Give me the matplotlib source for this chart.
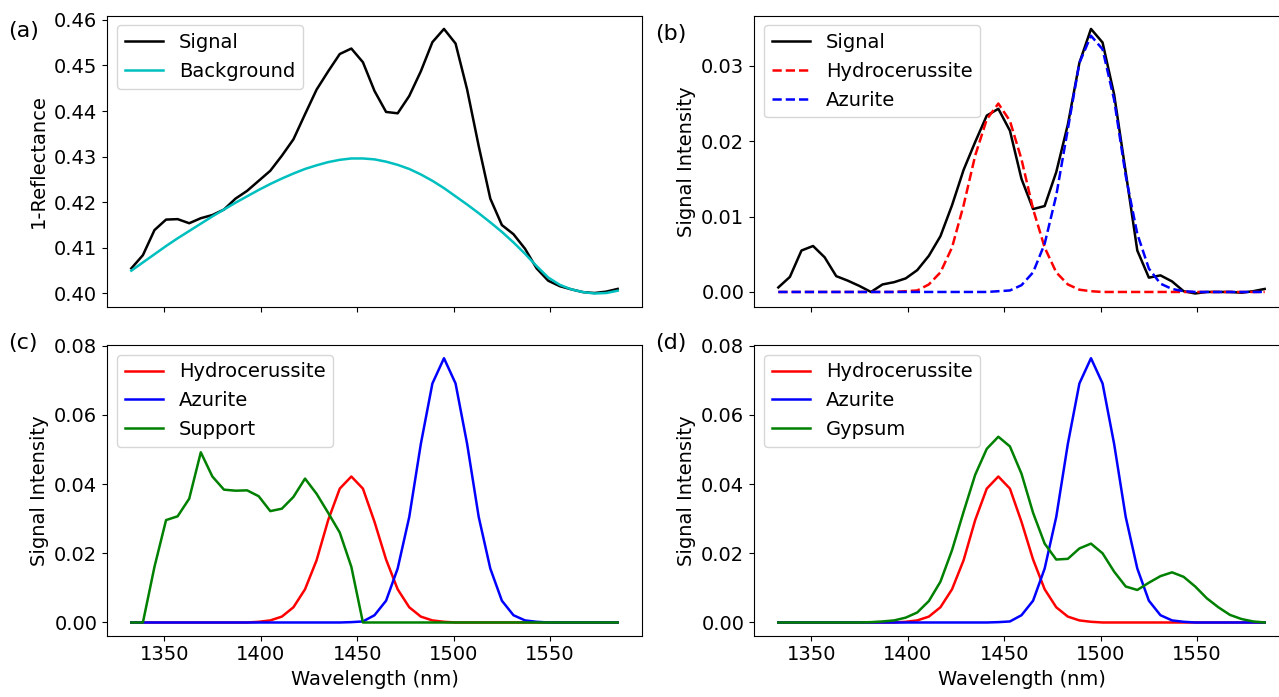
import numpy as np
import matplotlib
matplotlib.use("Agg")
import matplotlib.pyplot as plt
from matplotlib.ticker import FormatStrFormatter

# wavelength grid (nm), 6 nm steps
wavelength = [1333, 1339, 1345, 1351, 1357, 1363, 1369, 1375, 1381, 1387,
              1393, 1399, 1405, 1411, 1417, 1423, 1429, 1435, 1441, 1447,
              1453, 1459, 1465, 1471, 1477, 1483, 1489, 1495, 1501, 1507,
              1513, 1519, 1525, 1531, 1537, 1543, 1549, 1555, 1561, 1567,
              1573, 1579, 1585]

# (a) raw spectrum and fitted background
raw_signal = [0.4055, 0.4084, 0.4139, 0.4162, 0.4163, 0.4154, 0.4165, 0.4172, 0.4184, 0.4208,
              0.4225, 0.4247, 0.4269, 0.4302, 0.4338, 0.4393, 0.4447, 0.4487, 0.4525, 0.4537,
              0.4507, 0.4444, 0.4398, 0.4395, 0.4433, 0.4487, 0.4551, 0.4580, 0.4548, 0.4447,
              0.4323, 0.4208, 0.4150, 0.4130, 0.4098, 0.4055, 0.4028, 0.4016, 0.4009, 0.4003,
              0.4001, 0.4004, 0.4010]
background = [0.4050, 0.4068, 0.4086, 0.4104, 0.4121, 0.4137, 0.4153, 0.4169, 0.4184, 0.4199,
              0.4213, 0.4227, 0.4240, 0.4252, 0.4263, 0.4273, 0.4281, 0.4288, 0.4293, 0.4296,
              0.4296, 0.4294, 0.4289, 0.4282, 0.4273, 0.4261, 0.4247, 0.4231, 0.4213, 0.4195,
              0.4176, 0.4156, 0.4135, 0.4112, 0.4087, 0.4060, 0.4035, 0.4019, 0.4009, 0.4003,
              0.4000, 0.4001, 0.4006]

# (b) background-removed signal and fitted components
signal_b = [0.0006, 0.0020, 0.0055, 0.0061, 0.0046, 0.0021, 0.0015, 0.0008, 0.0000, 0.0010,
            0.0013, 0.0018, 0.0029, 0.0048, 0.0074, 0.0115, 0.0162, 0.0199, 0.0234, 0.0243,
            0.0214, 0.0150, 0.0110, 0.0114, 0.0159, 0.0222, 0.0304, 0.0349, 0.0331, 0.0262,
            0.0159, 0.0055, 0.0019, 0.0022, 0.0014, 0.0001, -0.0002, 0.0000, 0.0000, 0.0000,
            -0.0001, 0.0001, 0.0004]
hydro_fit = [0.0, 0.0, 0.0, 0.0, 0.0, 0.0, 0.0, 0.0, 0.0, 0.0,
             0.0, 0.0001, 0.0002, 0.0010, 0.0026, 0.0059, 0.0115, 0.0181, 0.0229, 0.0250,
             0.0227, 0.0176, 0.0110, 0.0059, 0.0026, 0.0010, 0.0003, 0.0001, 0.0, 0.0,
             0.0, 0.0, 0.0, 0.0, 0.0, 0.0, 0.0, 0.0, 0.0, 0.0,
             0.0, 0.0, 0.0]
azur_fit = [0.0, 0.0, 0.0, 0.0, 0.0, 0.0, 0.0, 0.0, 0.0, 0.0,
            0.0, 0.0, 0.0, 0.0, 0.0, 0.0, 0.0, 0.0, 0.0, 0.0001,
            0.0002, 0.0009, 0.0026, 0.0064, 0.0128, 0.0216, 0.0304, 0.0340, 0.0322, 0.0255,
            0.0154, 0.0077, 0.0031, 0.0011, 0.0004, 0.0001, 0.0, 0.0, 0.0, 0.0,
            0.0, 0.0, 0.0]

# (c), (d) reference spectra
hydrocerussite = [0.0, 0.0, 0.0, 0.0, 0.0, 0.0, 0.0, 0.0, 0.0, 0.0,
                  0.0, 0.0002, 0.0006, 0.0017, 0.0044, 0.0096, 0.0180, 0.0296, 0.0387, 0.0422,
                  0.0387, 0.0291, 0.0182, 0.0096, 0.0044, 0.0017, 0.0006, 0.0002, 0.0, 0.0,
                  0.0, 0.0, 0.0, 0.0, 0.0, 0.0, 0.0, 0.0, 0.0, 0.0,
                  0.0, 0.0, 0.0]
azurite = [0.0, 0.0, 0.0, 0.0, 0.0, 0.0, 0.0, 0.0, 0.0, 0.0,
           0.0, 0.0, 0.0, 0.0, 0.0, 0.0, 0.0, 0.0, 0.0, 0.0001,
           0.0003, 0.0021, 0.0063, 0.0156, 0.0305, 0.0516, 0.0691, 0.0764, 0.0691, 0.0516,
           0.0305, 0.0156, 0.0063, 0.0021, 0.0006, 0.0002, 0.0, 0.0, 0.0, 0.0,
           0.0, 0.0, 0.0]
support = [0.0, 0.0, 0.0161, 0.0296, 0.0307, 0.0358, 0.0492, 0.0422, 0.0384, 0.0381,
           0.0382, 0.0365, 0.0322, 0.0329, 0.0363, 0.0416, 0.0372, 0.0317, 0.0260, 0.0161,
           0.0, 0.0, 0.0, 0.0, 0.0, 0.0, 0.0, 0.0, 0.0, 0.0,
           0.0, 0.0, 0.0, 0.0, 0.0, 0.0, 0.0, 0.0, 0.0, 0.0,
           0.0, 0.0, 0.0]
gypsum = [0.0, 0.0, 0.0, 0.0, 0.0, 0.0, 0.0, 0.0, 0.0001, 0.0003,
          0.0006, 0.0014, 0.0029, 0.0062, 0.0118, 0.0209, 0.0320, 0.0427, 0.0502, 0.0537,
          0.0509, 0.0430, 0.0317, 0.0228, 0.0182, 0.0184, 0.0214, 0.0228, 0.0200, 0.0147,
          0.0104, 0.0094, 0.0115, 0.0134, 0.0145, 0.0132, 0.0104, 0.0070, 0.0044, 0.0022,
          0.0010, 0.0003, 0.0]

W, H = 1279, 697
fig = plt.figure(figsize=(W / 100, H / 100), dpi=100)
plt.rcParams['font.size'] = 14


def px_axes(left, top, right, bottom):
    return fig.add_axes([left / W, 1 - bottom / H, (right - left) / W, (bottom - top) / H])


ax_a = px_axes(107, 15.7, 642, 306.7)
ax_b = px_axes(754, 15.7, 1289, 306.7)
ax_c = px_axes(107, 345, 642, 635.7)
ax_d = px_axes(754, 345, 1289, 635.7)

lw = 1.8
fs = 14

ax_a.plot(wavelength, raw_signal, 'k', lw=lw, label='Signal')
ax_a.plot(wavelength, background, 'c', lw=lw, label='Background')
ax_a.set_ylabel('1-Reflectance', fontsize=fs)
ax_a.set_yticks([0.40, 0.41, 0.42, 0.43, 0.44, 0.45, 0.46])

ax_b.plot(wavelength, signal_b, 'k', lw=lw, label='Signal')
ax_b.plot(wavelength, hydro_fit, 'r--', lw=lw, label='Hydrocerussite')
ax_b.plot(wavelength, azur_fit, 'b--', lw=lw, label='Azurite')
ax_b.set_ylabel('Signal Intensity', fontsize=fs)
ax_b.set_yticks([0.00, 0.01, 0.02, 0.03])

ax_c.plot(wavelength, hydrocerussite, 'r', lw=lw, label='Hydrocerussite')
ax_c.plot(wavelength, azurite, 'b', lw=lw, label='Azurite')
ax_c.plot(wavelength, support, 'g', lw=lw, label='Support')
ax_c.set_ylabel('Signal Intensity', fontsize=fs)

ax_d.plot(wavelength, hydrocerussite, 'r', lw=lw, label='Hydrocerussite')
ax_d.plot(wavelength, azurite, 'b', lw=lw, label='Azurite')
ax_d.plot(wavelength, gypsum, 'g', lw=lw, label='Gypsum')
ax_d.set_ylabel('Signal Intensity', fontsize=fs)

for ax in (ax_c, ax_d):
    ax.set_yticks([0.00, 0.02, 0.04, 0.06, 0.08])
    ax.set_xlabel('Wavelength (nm)', fontsize=fs)

for ax in (ax_a, ax_b, ax_c, ax_d):
    ax.set_xticks([1350, 1400, 1450, 1500, 1550])
    ax.yaxis.set_major_formatter(FormatStrFormatter('%.2f'))
    ax.tick_params(labelsize=fs)
    ax.legend(loc='upper left', fontsize=fs)

for ax in (ax_a, ax_b):
    ax.tick_params(labelbottom=False)

fig.text(8 / W, 1 - 31 / H, '(a)', fontsize=16, va='center', ha='left')
fig.text(655 / W, 1 - 34 / H, '(b)', fontsize=16, va='center', ha='left')
fig.text(8 / W, 1 - 343 / H, '(c)', fontsize=16, va='center', ha='left')
fig.text(655 / W, 1 - 343 / H, '(d)', fontsize=16, va='center', ha='left')

fig.savefig('out.png', dpi=100)
